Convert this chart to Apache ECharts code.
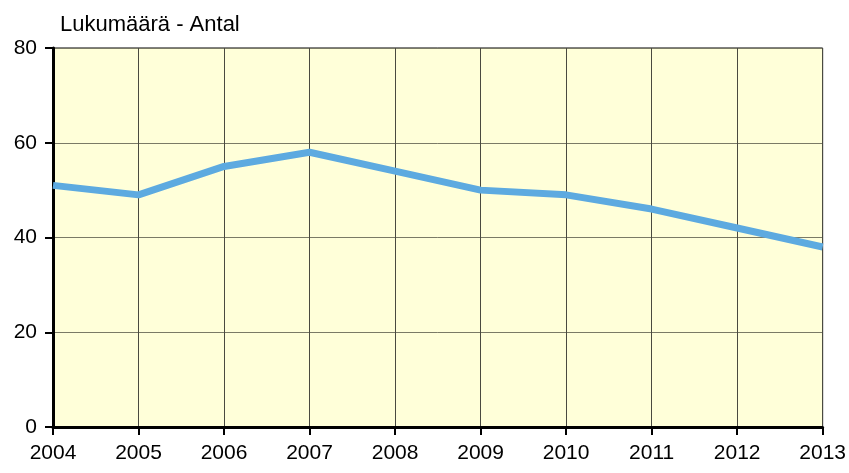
<!DOCTYPE html>
<html>
<head>
<meta charset="utf-8">
<script src="https://cdn.jsdelivr.net/npm/echarts@6/dist/echarts.min.js"></script>
<style>
html,body{margin:0;padding:0;background:#fff;}
#chart{width:849px;height:473px;}
</style>
</head>
<body>
<div id="chart"></div>
<script>
// vuodet / år
const years = ['2004','2005','2006','2007','2008','2009','2010','2011','2012','2013']
// lukumäärä / antal
const counts = [51, 49, 55, 58, 54, 50, 49, 46, 42, 38]
const yTicks = [0, 20, 40, 60, 80]

const font = '"Liberation Sans Narrow", "Arial Narrow", "Liberation Sans", Arial, sans-serif'

let myChart = echarts.init(document.getElementById('chart'))
let options = {
  animation: false,
  textStyle: { fontFamily: font },
  title: {
    text: 'Lukumäärä - Antal',
    left: 55,
    top: 9,
    textStyle: { fontFamily: font, fontSize: 22, fontWeight: 'normal', color: '#000' }
  },
  grid: {
    left: 53, right: 24, top: 48, bottom: 46,
    show: true,
    backgroundColor: '#FFFFD9',
    borderColor: '#000',
    borderWidth: 1
  },
  xAxis: {
    type: 'category',
    data: years,
    boundaryGap: false,
    axisLine: { lineStyle: { color: '#000', width: 3 } },
    axisTick: { show: true, length: 8, lineStyle: { color: '#000', width: 2 } },
    axisLabel: { color: '#000', fontSize: 21, fontFamily: font, margin: 16 },
    splitLine: { show: true, lineStyle: { color: '#4a4a40', width: 1 } }
  },
  yAxis: {
    type: 'value',
    min: yTicks[0],
    max: yTicks[yTicks.length - 1],
    interval: 20,
    axisLine: { show: true, lineStyle: { color: '#000', width: 3 } },
    axisTick: { show: true, length: 8, lineStyle: { color: '#000', width: 2 } },
    axisLabel: { color: '#000', fontSize: 21, fontFamily: font, margin: 16 },
    splitLine: { show: true, lineStyle: { color: '#7a7a66', width: 1 } }
  },
  series: [
    {
      type: 'line',
      data: counts,
      symbol: 'none',
      lineStyle: { color: '#5DAAE0', width: 7 },
      itemStyle: { color: '#5DAAE0' }
    }
  ]
}
myChart.setOption(options)
</script>
</body>
</html>
